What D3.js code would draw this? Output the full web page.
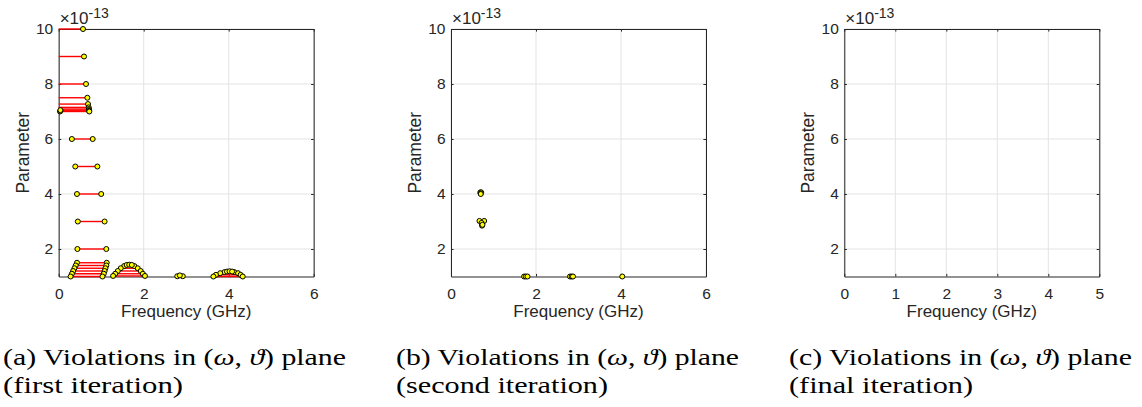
<!DOCTYPE html>
<html><head><meta charset="utf-8">
<script src="https://cdn.jsdelivr.net/npm/d3@7"></script>
<style>body{margin:0;background:#fff;overflow:hidden} svg{display:block}</style>
</head><body><svg id="chart" width="1142" height="407"></svg>
<script>
// values of "Parameter" are in units of 1e-13
const paramExponent = -13;
const paramTicks = [2, 4, 6, 8, 10];
const freqTicksAB = [0, 2, 4, 6];
const freqTicksC = [0, 1, 2, 3, 4, 5];

// Panel (a): violation bands (horizontal segments)
const segParamA = [10, 9, 8, 7.5, 7.27, 7.15, 7.09, 7.05, 7.02, 7.0, 6, 5, 4, 3, 2,
  1.5, 1.4, 1.3, 1.2, 1.1, 1.0, 1.38, 1.3, 1.2, 1.1, 1.02, 1.01, 1.16, 1.12, 1.06, 1.0];
const segLowA = [0, 0, 0, 0, 0, 0, 0, 0, 0, 0, 0.31, 0.39, 0.43, 0.45, 0.44,
  0.43, 0.40, 0.37, 0.34, 0.31, 0.28, 1.54, 1.46, 1.39, 1.33, 1.28, 2.79, 3.90, 3.80, 3.70, 3.64];
const segHighA = [0.572, 0.596, 0.642, 0.674, 0.69, 0.705, 0.71, 0.715, 0.718, 0.72, 0.80, 0.91, 1.00, 1.08, 1.12,
  1.13, 1.12, 1.10, 1.08, 1.06, 1.03, 1.78, 1.86, 1.93, 1.98, 2.03, 2.92, 4.13, 4.22, 4.28, 4.33];

// Panel (a): violation points
const ptFreqA = [0.572, 0.596, 0.642, 0.674, 0.69, 0.705, 0.71, 0.715, 0.718, 0.72, 0.03, 0.04, 0.04,
  0.31, 0.80, 0.39, 0.91, 0.43, 1.00, 0.45, 1.08, 0.44, 1.12,
  0.43, 1.13, 0.40, 1.12, 0.37, 1.10, 0.34, 1.08, 0.31, 1.06, 0.28, 1.03,
  1.54, 1.78, 1.46, 1.86, 1.39, 1.93, 1.33, 1.98, 1.28, 2.03, 1.60, 1.66, 1.72,
  2.79, 2.92, 2.85,
  3.90, 4.13, 3.80, 4.22, 3.70, 4.28, 3.64, 4.33, 3.96, 4.02, 4.08];
const ptParamA = [10, 9, 8, 7.5, 7.27, 7.15, 7.09, 7.05, 7.02, 7.0, 7.0, 7.02, 7.05,
  6, 6, 5, 5, 4, 4, 3, 3, 2, 2,
  1.5, 1.5, 1.4, 1.4, 1.3, 1.3, 1.2, 1.2, 1.1, 1.1, 1.0, 1.0,
  1.38, 1.38, 1.3, 1.3, 1.2, 1.2, 1.1, 1.1, 1.02, 1.02, 1.42, 1.43, 1.42,
  1.01, 1.01, 1.04,
  1.16, 1.16, 1.12, 1.12, 1.06, 1.06, 1.0, 1.0, 1.18, 1.19, 1.18];

// Panel (b): violation points
const ptFreqB = [0.69, 0.71, 0.70, 0.70, 0.67, 0.78, 0.72, 0.73, 0.74, 1.72, 1.76, 1.80, 2.80, 2.84, 2.87, 4.03];
const ptParamB = [4.06, 4.06, 4.02, 4.0, 3.02, 3.02, 2.95, 2.85, 2.88, 1.0, 1.0, 1.0, 1.0, 1.0, 1.0, 1.0];

// Panel (c): no violations
const ptFreqC = [];
const ptParamC = [];

const captionLetters = ["a", "b", "c"];
const captionIterations = ["(first iteration)", "(second iteration)", "(final iteration)"];

const svg = d3.select("#chart");
const plotTop = 29, plotBottom = 276.5, plotW = 255;
const panels = [
  {left: 58.7, xMax: 6, xt: freqTicksAB, segP: segParamA, segL: segLowA, segH: segHighA, pf: ptFreqA, pp: ptParamA, capX: 3, l2w: 180},
  {left: 451, xMax: 6, xt: freqTicksAB, segP: [], segL: [], segH: [], pf: ptFreqB, pp: ptParamB, capX: 396, l2w: 212},
  {left: 844.3, xMax: 5, xt: freqTicksC, segP: [], segL: [], segH: [], pf: ptFreqC, pp: ptParamC, capX: 789, l2w: 184}
];
const axisCol = "#262626";
const sans = "'Liberation Sans', Arial, sans-serif";
const serif = "'Liberation Serif', 'Times New Roman', serif";

panels.forEach((p, i) => {
  const x = d3.scaleLinear().domain([0, p.xMax]).range([p.left, p.left + plotW]);
  const y = d3.scaleLinear().domain([1, 10]).range([plotBottom, plotTop]);
  const g = svg.append("g");

  // grid
  g.selectAll(".gx").data(p.xt).join("line")
    .attr("x1", d => x(d)).attr("x2", d => x(d)).attr("y1", plotTop).attr("y2", plotBottom)
    .attr("stroke", "#e3e3e3").attr("stroke-width", 1);
  g.selectAll(".gy").data(paramTicks).join("line")
    .attr("x1", p.left).attr("x2", p.left + plotW).attr("y1", d => y(d)).attr("y2", d => y(d))
    .attr("stroke", "#e3e3e3").attr("stroke-width", 1);

  // axes via d3 axis (inward ticks)
  const fmt = d3.format("d");
  const xAxis = g.append("g").attr("transform", `translate(0,${plotBottom})`)
    .call(d3.axisBottom(x).tickValues(p.xt).tickFormat(fmt).tickSizeInner(-2.6).tickSizeOuter(0).tickPadding(12));
  const xAxisTop = g.append("g").attr("transform", `translate(0,${plotTop})`)
    .call(d3.axisTop(x).tickValues(p.xt).tickFormat("").tickSizeInner(-2.6).tickSizeOuter(0));
  const yAxis = g.append("g").attr("transform", `translate(${p.left},0)`)
    .call(d3.axisLeft(y).tickValues(paramTicks).tickFormat(fmt).tickSizeInner(-2.6).tickSizeOuter(0).tickPadding(5.5));
  const yAxisR = g.append("g").attr("transform", `translate(${p.left + plotW},0)`)
    .call(d3.axisRight(y).tickValues(paramTicks).tickFormat("").tickSizeInner(-2.6).tickSizeOuter(0));
  [xAxis, xAxisTop, yAxis, yAxisR].forEach(a => {
    a.select(".domain").attr("stroke", axisCol).attr("stroke-width", 1);
    a.selectAll(".tick line").attr("stroke", axisCol).attr("stroke-width", 1);
    a.selectAll(".tick text").attr("fill", axisCol).attr("font-family", sans).attr("font-size", 15.5);
  });
  xAxis.selectAll(".tick text").attr("dy", "0.68em");

  // exponent label
  const ex = g.append("text").attr("x", p.left + 1).attr("y", 24)
    .attr("font-family", sans).attr("font-size", 17).attr("fill", axisCol);
  ex.append("tspan").text("\u00d710");
  ex.append("tspan").attr("dy", -6).attr("font-size", 14).text(String(paramExponent));

  // axis labels
  g.append("text").attr("x", p.left + plotW / 2).attr("y", 317).attr("text-anchor", "middle")
    .attr("font-family", sans).attr("font-size", 17).attr("fill", axisCol).text("Frequency (GHz)");
  g.append("text").attr("transform", `translate(${p.left - 30},${(plotTop + plotBottom) / 2}) rotate(-90)`)
    .attr("text-anchor", "middle").attr("font-family", sans).attr("font-size", 17.5)
    .attr("fill", axisCol).text("Parameter");

  // violation segments
  g.selectAll(".seg").data(p.segP.map((v, k) => ({v, lo: p.segL[k], hi: p.segH[k]}))).join("line")
    .attr("x1", d => x(d.lo)).attr("x2", d => x(d.hi)).attr("y1", d => y(d.v)).attr("y2", d => y(d.v))
    .attr("stroke", "#ff0000").attr("stroke-width", 1.4);

  // violation points
  g.selectAll(".pt").data(p.pf.map((f, k) => ({f, v: p.pp[k]}))).join("circle")
    .attr("cx", d => x(d.f)).attr("cy", d => y(d.v)).attr("r", 2.5)
    .attr("fill", "#ffff00").attr("stroke", "#000").attr("stroke-width", 1);

  // caption
  const c1 = svg.append("text").attr("x", p.capX).attr("y", 364.5).attr("font-family", serif)
    .attr("font-size", 23).attr("fill", "#000").attr("textLength", 343).attr("lengthAdjust", "spacingAndGlyphs");
  c1.append("tspan").text(`(${captionLetters[i]}) Violations in (`);
  c1.append("tspan").attr("font-style", "italic").text("\u03c9");
  c1.append("tspan").text(", ");
  c1.append("tspan").attr("font-style", "italic").text("\u03d1");
  c1.append("tspan").text(") plane");
  svg.append("text").attr("x", p.capX).attr("y", 393).attr("font-family", serif)
    .attr("font-size", 23).attr("fill", "#000").attr("textLength", p.l2w).attr("lengthAdjust", "spacingAndGlyphs")
    .text(captionIterations[i]);
});
</script></body></html>
